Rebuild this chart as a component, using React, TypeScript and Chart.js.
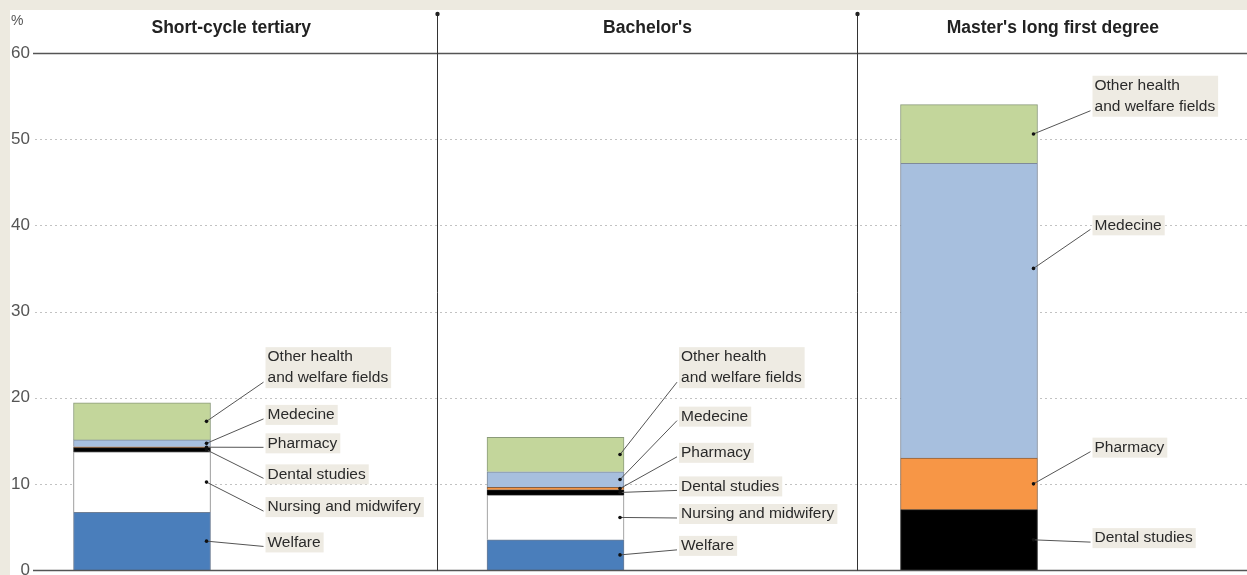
import React, { useEffect, useRef } from "react";
import { Chart, registerables } from "chart.js";

Chart.register(...registerables);

// ---- data ----
const categories = ["Short-cycle tertiary", "Bachelor's", "Master's long first degree"];
const fieldNames = [
  "Welfare",
  "Nursing and midwifery",
  "Dental studies",
  "Pharmacy",
  "Medecine",
  "Other health and welfare fields",
];
const welfare = [6.7, 3.5, null];
const nursing = [7.0, 5.2, null];
const dental = [0.5, 0.6, 7.0];
const pharmacy = [0.1, 0.3, 6.0];
const medecine = [0.8, 1.8, 34.2];
const other = [4.3, 4.0, 6.8];
const yTicks = [0, 10, 20, 30, 40, 50, 60];

// annotation text per field and the value-level of the label's first line, per panel
const fieldLabelLines = [
  ["Welfare"],
  ["Nursing and midwifery"],
  ["Dental studies"],
  ["Pharmacy"],
  ["Medecine"],
  ["Other health", "and welfare fields"],
];
const labelLevelShort = [3.2, 7.3, 11.1, 14.7, 18.0, 24.7];
const labelLevelBachelor = [2.8, 6.5, 9.7, 13.6, 17.8, 24.7];
const labelLevelMaster = [null, null, 3.7, 14.2, 40.0, 56.2];
// value where the leader touches the bar (null = middle of the segment)
const anchorLevelMaster = [null, null, null, null, 35.0, null];

// ---- styles ----
const SERIES = [welfare, nursing, dental, pharmacy, medecine, other];
const LABEL_LEVELS = [labelLevelShort, labelLevelBachelor, labelLevelMaster];
const ANCHORS = [[], [], anchorLevelMaster];
const COLORS = ["#4A7EBB", "#FFFFFF", "#000000", "#F79646", "#A7BFDE", "#C3D69B"];
const BORDERS = ["#6f7f95", "#8a8a8a", "#222222", "#8a6040", "#7f8a9a", "#8a9a7a"];
const FONT = "'Liberation Sans', Arial, sans-serif";
const BAR_W = 137;
const BEIGE = "#EDEAE0";
const DIVIDERS = [0.713, 1.729];

export default function App() {
  const ref = useRef<HTMLCanvasElement | null>(null);

  useEffect(() => {
    const canvas = ref.current;
    if (!canvas) return;

    const decor = {
      id: "decor",
      beforeDraw(chart: any) {
        const { ctx, width, height } = chart;
        ctx.save();
        ctx.fillStyle = BEIGE;
        ctx.fillRect(0, 0, width, height);
        ctx.fillStyle = "#FFFFFF";
        ctx.fillRect(10, 10, width - 10, height - 10);
        ctx.restore();
      },
      beforeDatasetsDraw(chart: any) {
        const { ctx, chartArea } = chart;
        const ys = chart.scales.y;
        ctx.save();
        yTicks.forEach((t) => {
          const y = Math.round(ys.getPixelForValue(t)) + 0.5;
          if (t === 0) return;
          ctx.beginPath();
          if (t === 60) {
            ctx.setLineDash([]);
            ctx.strokeStyle = "#555555";
            ctx.lineWidth = 1.5;
            ctx.moveTo(chartArea.left - 2, y);
          } else {
            ctx.setLineDash([2, 3]);
            ctx.strokeStyle = "#c2c2c2";
            ctx.lineWidth = 1;
            ctx.moveTo(chartArea.left, y);
          }
          ctx.lineTo(chartArea.right, y);
          ctx.stroke();
        });
        ctx.restore();
      },
      afterDatasetsDraw(chart: any) {
        const { ctx, chartArea } = chart;
        const xs = chart.scales.x;
        const ys = chart.scales.y;
        ctx.save();
        // baseline
        const y0 = Math.round(ys.getPixelForValue(0)) + 0.5;
        ctx.beginPath();
        ctx.strokeStyle = "#555555";
        ctx.lineWidth = 1.5;
        ctx.moveTo(chartArea.left - 2, y0);
        ctx.lineTo(chartArea.right, y0);
        ctx.stroke();

        // panel dividers
        const dividers = DIVIDERS.map((v) => Math.round(xs.getPixelForValue(v)) + 0.5);
        dividers.forEach((dx) => {
          ctx.beginPath();
          ctx.strokeStyle = "#333333";
          ctx.lineWidth = 1;
          ctx.moveTo(dx, 14);
          ctx.lineTo(dx, y0);
          ctx.stroke();
          ctx.beginPath();
          ctx.fillStyle = "#222222";
          ctx.arc(dx, 14, 2.2, 0, Math.PI * 2);
          ctx.fill();
        });

        // panel titles
        const bounds = [
          [chartArea.left - 10, dividers[0]],
          [dividers[0], dividers[1]],
          [dividers[1], dividers[1] + 0.93 * (dividers[1] - dividers[0])],
        ];
        ctx.fillStyle = "#222222";
        ctx.font = `bold 17.5px ${FONT}`;
        ctx.textAlign = "center";
        ctx.textBaseline = "middle";
        categories.forEach((c, i) => {
          ctx.fillText(c, (bounds[i][0] + bounds[i][1]) / 2, 28);
        });

        // unit
        ctx.fillStyle = "#555555";
        ctx.font = `14px ${FONT}`;
        ctx.textAlign = "left";
        ctx.fillText("%", 11, 21);

        // annotations
        const lineH = 21;
        ctx.font = `15.5px ${FONT}`;
        categories.forEach((_, p) => {
          const cx = xs.getPixelForValue(p);
          const right = cx + BAR_W / 2;
          let base = 0;
          SERIES.forEach((s, f) => {
            const v = s[p];
            if (v == null) return;
            const mid = base + v / 2;
            base += v;
            const lvl = LABEL_LEVELS[p][f];
            if (lvl == null) return;
            const lines = fieldLabelLines[f];
            const tx = right + 57;
            const ty = ys.getPixelForValue(lvl);
            const w = Math.max(...lines.map((l) => ctx.measureText(l).width));
            ctx.fillStyle = "#EEEBE3";
            ctx.fillRect(tx - 2, ty - 10, w + 5, lineH * (lines.length - 1) + 20);
            ctx.fillStyle = "#2a2a2a";
            ctx.textAlign = "left";
            ctx.textBaseline = "middle";
            lines.forEach((l, k) => ctx.fillText(l, tx, ty + k * lineH));
            const anchor = ANCHORS[p][f];
            const ax = right - 4;
            const ay = ys.getPixelForValue(anchor != null ? anchor : mid);
            const ex = tx - 4;
            const ey = ty + (lines.length - 1) * lineH + 4;
            ctx.beginPath();
            ctx.strokeStyle = "#555555";
            ctx.lineWidth = 1;
            ctx.moveTo(ax, ay);
            ctx.lineTo(ex, ey);
            ctx.stroke();
            ctx.beginPath();
            ctx.fillStyle = "#111111";
            ctx.arc(ax, ay, 1.8, 0, Math.PI * 2);
            ctx.fill();
          });
        });
        ctx.restore();
      },
    };

    const chart = new Chart(canvas, {
      type: "bar",
      data: {
        datasets: SERIES.map((s, f) => ({
          label: fieldNames[f],
          data: s.map((v, i) => ({ x: i, y: v })),
          backgroundColor: COLORS[f],
          borderColor: BORDERS[f],
          borderWidth: 1,
          barThickness: BAR_W,
        })),
      },
      options: {
        animation: false,
        responsive: true,
        maintainAspectRatio: false,
        layout: { padding: { left: 10, top: 53, right: 0, bottom: 5 } },
        plugins: { legend: { display: false }, tooltip: { enabled: false } },
        scales: {
          x: {
            type: "linear",
            stacked: true,
            offset: false,
            bounds: "data",
            min: -0.2588,
            max: 2.6723,
            display: false,
            grid: { offset: false },
          },
          y: {
            stacked: true,
            min: 0,
            max: 60,
            afterBuildTicks: (scale: any) => {
              scale.ticks = yTicks.map((v) => ({ value: v }));
            },
            afterFit: (scale: any) => {
              scale.width = 25;
              scale.paddingTop = 0;
              scale.paddingBottom = 0;
            },
            ticks: {
              color: "#555555",
              padding: 5,
              font: { size: 17, family: FONT },
            },
            grid: { display: false, drawTicks: false },
            border: { display: false },
          },
        },
      },
      plugins: [decor],
    } as any);

    return () => chart.destroy();
  }, []);

  return (
    <div style={{ position: "absolute", left: 0, top: 0, width: 1247, height: 575 }}>
      <canvas ref={ref} />
    </div>
  );
}
